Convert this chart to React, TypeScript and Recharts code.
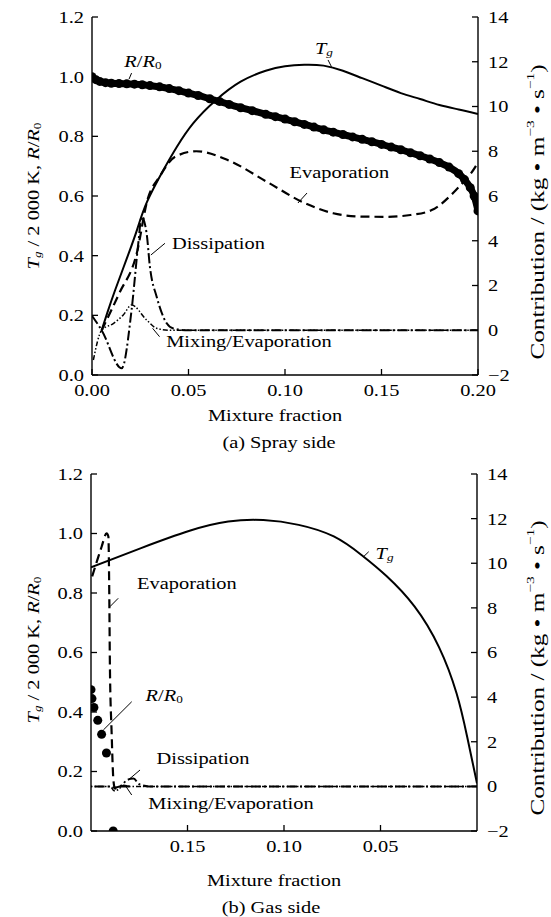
import React from 'react';
import { ComposedChart, Line, XAxis, YAxis, ReferenceDot, ReferenceLine } from 'recharts';

// ---------- (a) Spray side ----------
const sprayTgX = [0.005, 0.008, 0.012, 0.018, 0.0235, 0.0285, 0.037, 0.044, 0.0525, 0.064, 0.077, 0.09, 0.1, 0.11, 0.12, 0.13, 0.14, 0.15, 0.16, 0.17, 0.18, 0.19, 0.2];
const sprayTgY = [0.15, 0.21, 0.285, 0.39, 0.49, 0.58, 0.687, 0.765, 0.844, 0.92, 0.983, 1.02, 1.035, 1.04, 1.037, 1.02, 0.995, 0.97, 0.945, 0.925, 0.905, 0.89, 0.875];

const sprayRX = [0, 0.002, 0.004, 0.007, 0.01, 0.014, 0.018, 0.022, 0.026, 0.03, 0.035, 0.04, 0.045, 0.05, 0.055, 0.061, 0.066, 0.071, 0.077, 0.083, 0.09, 0.095, 0.1, 0.105, 0.11, 0.115, 0.12, 0.125, 0.13, 0.135, 0.14, 0.145, 0.15, 0.155, 0.16, 0.165, 0.17, 0.175, 0.18, 0.185, 0.19, 0.193, 0.196, 0.198, 0.2];
const sprayRY = [1.0, 0.99, 0.984, 0.98, 0.978, 0.977, 0.976, 0.975, 0.973, 0.97, 0.966, 0.96, 0.953, 0.945, 0.937, 0.926, 0.917, 0.907, 0.896, 0.886, 0.874, 0.866, 0.858, 0.849, 0.84, 0.831, 0.822, 0.814, 0.806, 0.798, 0.79, 0.782, 0.773, 0.764, 0.755, 0.745, 0.735, 0.724, 0.712, 0.697, 0.675, 0.655, 0.628, 0.6, 0.55];

const sprayEvapX = [0.005, 0.0141, 0.0232, 0.0287, 0.035, 0.0432, 0.054, 0.0705, 0.0905, 0.1105, 0.125, 0.14, 0.1523, 0.165, 0.176, 0.1886, 0.1987, 0.2];
const sprayEvapY = [0, 1.65, 3.44, 5.82, 6.86, 7.76, 8.0, 7.6, 6.64, 5.67, 5.23, 5.08, 5.07, 5.15, 5.37, 6.27, 7.31, 7.5];

const sprayDissX = [0, 0.005, 0.0154, 0.0205, 0.024, 0.0257, 0.0283, 0.03, 0.0335, 0.0387, 0.0421, 0.05, 0.1, 0.15, 0.2];
const sprayDissY = [0.65, 0, -1.7, 0.9, 3.89, 5.07, 4.33, 2.84, 1.5, 0.31, 0.08, 0, 0, 0, 0];

const sprayMixX = [0.0007, 0.005, 0.011, 0.0162, 0.0205, 0.0283, 0.0335, 0.04, 0.1, 0.2];
const sprayMixY = [-1.33, 0, 0.3, 0.68, 1.13, 0.46, 0.09, 0, 0, 0];

// ---------- (b) Gas side ----------
const gasTgX = [0, 0.0051, 0.0106, 0.0197, 0.0324, 0.0469, 0.0597, 0.0742, 0.0924, 0.1107, 0.1289, 0.1489, 0.1744, 0.2];
const gasTgY = [0.16, 0.317, 0.463, 0.618, 0.755, 0.857, 0.927, 0.99, 1.029, 1.045, 1.04, 1.009, 0.95, 0.886];

const gasRX = [0.1885, 0.192, 0.1945, 0.1965, 0.1985, 0.1995, 0.2];
const gasRY = [0.0, 0.262, 0.325, 0.372, 0.415, 0.445, 0.475];

const gasEvapX = [0.18, 0.186, 0.1876, 0.1884, 0.1893, 0.1902, 0.1905, 0.191, 0.1919, 0.1945, 0.197, 0.2];
const gasEvapY = [0, 0, -0.1, 0.29, 2.38, 5.36, 8.35, 11.2, 11.34, 10.74, 10.07, 9.25];

const gasDissX = [0, 0.1, 0.17, 0.175, 0.178, 0.181, 0.185, 0.188, 0.19, 0.2];
const gasDissY = [0, 0, 0, 0.1, 0.35, 0.3, 0, -0.05, 0, 0];

const gasMixX = [0, 0.1, 0.18, 0.183, 0.186, 0.188, 0.19, 0.2];
const gasMixY = [0, 0, 0, 0.05, -0.15, -0.2, 0, 0];

// ---------- ticks ----------
const sprayXTicks = [0, 0.05, 0.1, 0.15, 0.2];
const gasXTicks = [0.15, 0.1, 0.05];
const leftTicks = [0, 0.2, 0.4, 0.6, 0.8, 1.0, 1.2];
const rightTicks = [-2, 0, 2, 4, 6, 8, 10, 12, 14];

const pts = (xs: number[], ys: number[]) => xs.map((x, i) => ({ x, y: ys[i] }));

const FONT = '"Liberation Serif", "Times New Roman", Times, serif';
const FS = 17;
const SX = 1.2;
const INK = '#000';

function SText({ x, y, anchor = 'middle', rotate = 0, size = FS, stretch = SX, children }: any) {
  return (
    <g transform={`translate(${x},${y}) rotate(${rotate}) scale(${stretch},1)`}>
      <text x={0} y={0} textAnchor={anchor} dominantBaseline="central" fontFamily={FONT} fontSize={size} fill={INK} style={{ whiteSpace: 'pre' }}>
        {children}
      </text>
    </g>
  );
}

const LeftTick = (p: any) => {
  const { x, y, payload } = p;
  return (
    <g>
      <line x1={x} x2={x + 6} y1={y} y2={y} stroke={INK} strokeWidth={1.3} />
      <SText x={x - 8} y={y} anchor="end">{Number(payload.value).toFixed(1)}</SText>
    </g>
  );
};

const RightTick = (p: any) => {
  const { x, y, payload } = p;
  const v = Number(payload.value);
  return (
    <g>
      <line x1={x} x2={x - 6} y1={y} y2={y} stroke={INK} strokeWidth={1.3} />
      <SText x={x + 10} y={y} anchor="start">{v < 0 ? `\u2212${Math.abs(v)}` : `${v}`}</SText>
    </g>
  );
};

const BottomTick = (p: any) => {
  const { x, y, payload } = p;
  return (
    <g>
      <line x1={x} x2={x} y1={y} y2={y - 6} stroke={INK} strokeWidth={1.3} />
      <SText x={x} y={y + 15}>{Number(payload.value).toFixed(2)}</SText>
    </g>
  );
};

const TgLabel = () => (
  <>
    <tspan fontStyle="italic">T</tspan>
    <tspan fontStyle="italic" fontSize={11} dy={4}>g</tspan>
  </>
);
const RLabel = () => (
  <>
    <tspan fontStyle="italic">R</tspan>
    <tspan>/</tspan>
    <tspan fontStyle="italic">R</tspan>
    <tspan fontSize={11} dy={4}>0</tspan>
  </>
);

const LeftTitle = ({ x, y }: any) => (
  <SText x={x} y={y} rotate={-90}>
    <tspan fontStyle="italic">T</tspan>
    <tspan fontStyle="italic" fontSize={11} dy={4}>g</tspan>
    <tspan dy={-4}>{' / 2 000 K, '}</tspan>
    <tspan fontStyle="italic">R</tspan>
    <tspan>/</tspan>
    <tspan fontStyle="italic">R</tspan>
    <tspan fontSize={11} dy={4}>0</tspan>
  </SText>
);

const RightTitle = ({ x, y }: any) => (
  <SText x={x} y={y} rotate={-90} size={18} stretch={1.4}>
    <tspan>{'Contribution / (kg \u2022 m'}</tspan>
    <tspan fontSize={11} dy={-7}>{'\u22123'}</tspan>
    <tspan dy={7}>{' \u2022 s'}</tspan>
    <tspan fontSize={11} dy={-7}>{'\u22121'}</tspan>
    <tspan dy={7}>)</tspan>
  </SText>
);

const note = (content: any) => (p: any) => <SText x={p.cx} y={p.cy}>{content}</SText>;

const common = { isAnimationActive: false, dot: false, activeDot: false, legendType: 'none' as const };

const lineProps = {
  tg: { stroke: INK, strokeWidth: 2, type: 'natural' as const },
  evap: { stroke: INK, strokeWidth: 2.2, strokeDasharray: '9 5', type: 'monotone' as const },
  diss: { stroke: INK, strokeWidth: 2, strokeDasharray: '10 3 2 3', type: 'monotone' as const },
  mix: { stroke: INK, strokeWidth: 1.5, strokeDasharray: '5 2 1.5 2 1.5 2', type: 'monotone' as const },
};

export default function App() {
  const axisLine = { stroke: INK, strokeWidth: 1.4 };
  return (
    <div style={{ position: 'absolute', left: 0, top: 0, width: 551, height: 917, background: '#fff' }}>
      {/* (a) Spray side */}
      <div style={{ position: 'absolute', left: 0, top: 0 }}>
        <ComposedChart width={551} height={460} margin={{ top: 17, right: 0, bottom: 0, left: 0 }}>
          <XAxis type="number" dataKey="x" domain={[0, 0.2]} ticks={sprayXTicks} interval={0} height={85}
            tickSize={0} tickMargin={0} tickLine={false} axisLine={axisLine} tick={<BottomTick />} allowDataOverflow />
          <YAxis yAxisId="left" orientation="left" type="number" domain={[0, 1.2]} ticks={leftTicks} interval={0} width={92}
            tickSize={0} tickMargin={0} tickLine={false} axisLine={axisLine} tick={<LeftTick />} allowDataOverflow />
          <YAxis yAxisId="right" orientation="right" type="number" domain={[-2, 14]} ticks={rightTicks} interval={0} width={73}
            tickSize={0} tickMargin={0} tickLine={false} axisLine={axisLine} tick={<RightTick />} allowDataOverflow />

          <Line {...common} {...lineProps.mix} yAxisId="right" data={pts(sprayMixX, sprayMixY)} dataKey="y" />
          <Line {...common} {...lineProps.diss} yAxisId="right" data={pts(sprayDissX, sprayDissY)} dataKey="y" />
          <Line {...common} {...lineProps.evap} yAxisId="right" data={pts(sprayEvapX, sprayEvapY)} dataKey="y" />
          <Line {...common} {...lineProps.tg} yAxisId="left" data={pts(sprayTgX, sprayTgY)} dataKey="y" />
          <Line {...common} yAxisId="left" data={pts(sprayRX, sprayRY)} dataKey="y" type="monotone" stroke={INK} strokeWidth={7}
            dot={{ r: 4.5, fill: INK, stroke: 'none' }} />

          <ReferenceDot yAxisId="left" x={0.0264} y={1.0525} r={0} shape={note(<RLabel />)} />
          <ReferenceLine yAxisId="left" segment={[{ x: 0.0192, y: 0.992 }, { x: 0.0205, y: 1.012 }]} stroke={INK} strokeWidth={1} />
          <ReferenceDot yAxisId="left" x={0.1202} y={1.096} r={0} shape={note(<TgLabel />)} />
          <ReferenceLine yAxisId="left" segment={[{ x: 0.1223, y: 1.056 }, { x: 0.1241, y: 1.033 }]} stroke={INK} strokeWidth={1} />
          <ReferenceDot yAxisId="left" x={0.1282} y={0.6815} r={0} shape={note('Evaporation')} />
          <ReferenceLine yAxisId="left" segment={[{ x: 0.1067, y: 0.5765 }, { x: 0.1114, y: 0.61 }]} stroke={INK} strokeWidth={1} />
          <ReferenceDot yAxisId="left" x={0.0655} y={0.4415} r={0} shape={note('Dissipation')} />
          <ReferenceLine yAxisId="left" segment={[{ x: 0.0305, y: 0.4022 }, { x: 0.0378, y: 0.4415 }]} stroke={INK} strokeWidth={1} />
          <ReferenceDot yAxisId="left" x={0.0813} y={0.1146} r={0} shape={note('Mixing/Evaporation')} />
          <ReferenceLine yAxisId="left" segment={[{ x: 0.0314, y: 0.1565 }, { x: 0.035, y: 0.1284 }]} stroke={INK} strokeWidth={1} />
        </ComposedChart>
      </div>

      {/* (b) Gas side */}
      <div style={{ position: 'absolute', left: 0, top: 457 }}>
        <ComposedChart width={551} height={460} margin={{ top: 17, right: 0, bottom: 0, left: 0 }}>
          <XAxis type="number" dataKey="x" domain={[0, 0.2]} reversed ticks={gasXTicks} interval={0} height={86}
            tickSize={0} tickMargin={0} tickLine={false} axisLine={axisLine} tick={<BottomTick />} allowDataOverflow />
          <YAxis yAxisId="left" orientation="left" type="number" domain={[0, 1.2]} ticks={leftTicks} interval={0} width={91}
            tickSize={0} tickMargin={0} tickLine={false} axisLine={axisLine} tick={<LeftTick />} allowDataOverflow />
          <YAxis yAxisId="right" orientation="right" type="number" domain={[-2, 14]} ticks={rightTicks} interval={0} width={74}
            tickSize={0} tickMargin={0} tickLine={false} axisLine={axisLine} tick={<RightTick />} allowDataOverflow />

          <Line {...common} {...lineProps.mix} yAxisId="right" data={pts(gasMixX, gasMixY)} dataKey="y" />
          <Line {...common} {...lineProps.diss} yAxisId="right" data={pts(gasDissX, gasDissY)} dataKey="y" />
          <Line {...common} {...lineProps.evap} yAxisId="right" data={pts(gasEvapX, gasEvapY)} dataKey="y" />
          <Line {...common} {...lineProps.tg} yAxisId="left" data={pts(gasTgX, gasTgY)} dataKey="y" />
          <Line {...common} yAxisId="left" data={pts(gasRX, gasRY)} dataKey="y" stroke="none"
            dot={{ r: 4.5, fill: INK, stroke: 'none' }} />

          <ReferenceDot yAxisId="left" x={0.0479} y={0.9345} r={0} shape={note(<TgLabel />)} />
          <ReferenceLine yAxisId="left" segment={[{ x: 0.0588, y: 0.922 }, { x: 0.0561, y: 0.9388 }]} stroke={INK} strokeWidth={1} />
          <ReferenceDot yAxisId="left" x={0.1503} y={0.8326} r={0} shape={note('Evaporation')} />
          <ReferenceLine yAxisId="left" segment={[{ x: 0.1902, y: 0.754 }, { x: 0.1859, y: 0.7822 }]} stroke={INK} strokeWidth={1} />
          <ReferenceDot yAxisId="left" x={0.1621} y={0.4571} r={0} shape={note(<RLabel />)} />
          <ReferenceLine yAxisId="left" segment={[{ x: 0.1936, y: 0.3395 }, { x: 0.1789, y: 0.4346 }]} stroke={INK} strokeWidth={1} />
          <ReferenceDot yAxisId="left" x={0.142} y={0.2444} r={0} shape={note('Dissipation')} />
          <ReferenceLine yAxisId="left" segment={[{ x: 0.1807, y: 0.1714 }, { x: 0.1746, y: 0.205 }]} stroke={INK} strokeWidth={1} />
          <ReferenceDot yAxisId="left" x={0.1275} y={0.0931} r={0} shape={note('Mixing/Evaporation')} />
          <ReferenceLine yAxisId="left" segment={[{ x: 0.1824, y: 0.1546 }, { x: 0.1789, y: 0.121 }]} stroke={INK} strokeWidth={1} />
        </ComposedChart>
      </div>

      {/* axis titles and captions */}
      <svg width={551} height={917} style={{ position: 'absolute', left: 0, top: 0, pointerEvents: 'none' }}>
        <LeftTitle x={33} y={196} />
        <RightTitle x={537} y={212} />
        <SText x={275} y={415}>Mixture fraction</SText>
        <SText x={279} y={442}>(a) Spray side</SText>
        <LeftTitle x={33} y={650} />
        <RightTitle x={537} y={668} />
        <SText x={274} y={880}>Mixture fraction</SText>
        <SText x={271} y={907}>(b) Gas side</SText>
      </svg>
    </div>
  );
}
